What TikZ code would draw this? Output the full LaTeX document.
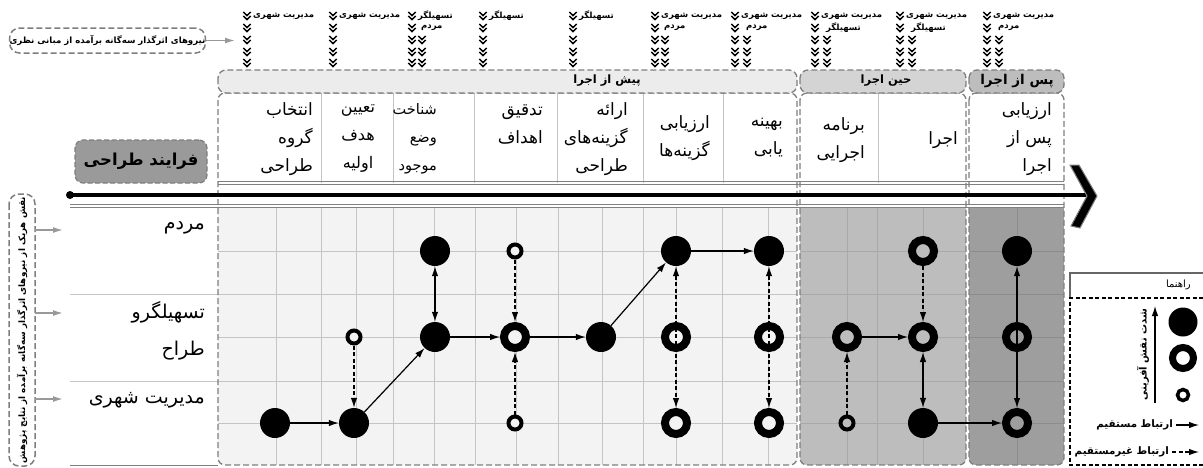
\documentclass[tikz,border=0pt]{standalone}
\usepackage{fontspec}
\usetikzlibrary{arrows.meta}
\newfontfamily\fafont[Script=Arabic]{DejaVu Sans}
\TeXXeTstate=1
\newcommand\fa[1]{{\fafont\beginR #1\endR}}
\definecolor{tabA}{HTML}{ECECEC}
\definecolor{tabB}{HTML}{D4D4D4}
\definecolor{tabC}{HTML}{BDBDBD}
\definecolor{gridA}{HTML}{F3F3F3}
\definecolor{gridB}{HTML}{BDBDBD}
\definecolor{gridC}{HTML}{9E9E9E}
\definecolor{glA}{HTML}{C4C4C4}
\definecolor{glB}{HTML}{A9A9A9}
\definecolor{glC}{HTML}{8C8C8C}
\definecolor{bordergray}{HTML}{7E7E7E}
\definecolor{arrowgray}{HTML}{999999}
\definecolor{procgray}{HTML}{9A9A9A}
\begin{document}
\begin{tikzpicture}[x=1pt,y=-1pt,
  big/.style={circle,fill=black,minimum size=30pt,inner sep=0pt},
  ring/.style={circle,draw=black,line width=8pt,minimum size=22pt,inner sep=0pt},
  sring/.style={circle,draw=black,line width=4pt,minimum size=13pt,inner sep=0pt},
  direct/.style={line width=1.2pt,-{Latex[length=10pt,width=6.5pt]}},
  indirect/.style={direct,dash pattern=on 4pt off 2.5pt},
  bidirect/.style={line width=1.2pt,{Latex[length=10pt,width=6.5pt]}-{Latex[length=10pt,width=6.5pt]}},
  bidashed/.style={bidirect,dash pattern=on 4pt off 2.5pt},
  border/.style={draw=bordergray,line width=1.3pt,dash pattern=on 6pt off 3pt},
  hdr/.style={font=\fontsize{17}{28}\selectfont,align=right,inner sep=0pt,anchor=east},
  rowlab/.style={font=\fontsize{19}{37}\selectfont,align=right,inner sep=0pt,anchor=east},
  toplab/.style={font=\fontsize{8.5}{10}\selectfont\bfseries,inner sep=0pt,anchor=west},
  tablab/.style={font=\fontsize{11.5}{13}\selectfont\bfseries,inner sep=0pt},
  legtxt/.style={font=\fontsize{10.3}{12}\selectfont\bfseries,inner sep=0pt,anchor=east},
  garrow/.style={draw=arrowgray,line width=1.5pt,-{Latex[length=10pt,width=6pt]}},
  chev/.pic={\draw[line width=1.5pt] (-3.7,-4) -- (0,-0.5) -- (3.7,-4);
             \draw[line width=1.5pt] (-3.7,0) -- (0,3.5) -- (3.7,0);}
]
\useasboundingbox (0,0) rectangle (1203,467);

% ---------- regions ----------
\begin{scope}
\clip[rounded corners=7pt] (218,93) rectangle (797,465);
\fill[white] (218,93) rectangle (797,207);
\fill[gridA] (218,207) rectangle (797,465);
\foreach \x in {276,321,356,393,434,475,516,558,602,643,676,722,768}
  \draw[glA,line width=0.9pt] (\x,207) -- (\x,465);
\foreach \y in {251,294,337,381,423}
  \draw[glA,line width=0.9pt] (218,\y) -- (797,\y);
\foreach \x in {321,393,474,557,643,723}
  \draw[glA,line width=1pt] (\x,93) -- (\x,183);
\end{scope}
\begin{scope}
\clip[rounded corners=7pt] (800,93) rectangle (966,465);
\fill[white] (800,93) rectangle (966,207);
\fill[gridB] (800,207) rectangle (966,465);
\foreach \x in {847,877,923}
  \draw[glB,line width=0.9pt] (\x,207) -- (\x,465);
\foreach \y in {251,294,337,381,423}
  \draw[glB,line width=0.9pt] (800,\y) -- (966,\y);
\draw[glA,line width=1pt] (878,93) -- (878,183);
\end{scope}
\begin{scope}
\clip[rounded corners=7pt] (969,93) rectangle (1064,465);
\fill[white] (969,93) rectangle (1064,207);
\fill[gridC] (969,207) rectangle (1064,465);
\draw[glC,line width=0.9pt] (1017,207) -- (1017,465);
\foreach \y in {251,294,337,381,423}
  \draw[glC,line width=0.9pt] (969,\y) -- (1064,\y);
\end{scope}

% double rules
\draw[gray,line width=1pt] (218,181.5) -- (1064,181.5);
\draw[gray,line width=1pt] (218,184.5) -- (1064,184.5);
\draw[gray,line width=1pt] (70,204) -- (1064,204);
\draw[gray,line width=1pt] (70,207) -- (1064,207);
\draw[glA,line width=1pt] (70,294) -- (218,294);
\draw[glA,line width=1pt] (70,381) -- (218,381);
\draw[gray,line width=1.6pt] (70,465.5) -- (218,465.5);

% region borders and tabs
\draw[border,rounded corners=7pt] (218,93) rectangle (797,465);
\draw[border,rounded corners=7pt] (800,93) rectangle (966,465);
\draw[border,rounded corners=7pt] (969,93) rectangle (1064,465);
\draw[border,fill=tabA,rounded corners=8pt] (218,70) rectangle (797,93);
\draw[border,fill=tabB,rounded corners=8pt] (800,70) rectangle (966,93);
\draw[border,fill=tabC,rounded corners=8pt] (969,70) rectangle (1064,93);
\node[tablab] (tA) at (607,81) {\fa{پیش از اجرا}};
\node[tablab] (tB) at (886,81) {\fa{حین اجرا}};
\node[tablab,font=\fontsize{13.5}{15}\selectfont\bfseries] (tC) at (1017,81) {\fa{پس از اجرا}};

% ---------- timeline ----------
\coordinate (tls) at (70,195);
\coordinate (tle) at (1086,195);
\draw[line width=3.5pt] (tls) -- (tle);
\fill (tls) circle (4pt);
\draw[fill=black,draw=gray,line width=1pt]
  (1070,165) -- (1079,165) -- (1097,196) -- (1080,228) -- (1071,226) -- (1087,196) -- cycle;

% ---------- header texts ----------
\node[hdr] (h1) at (313,139) {\fa{انتخاب}\\\fa{گروه}\\\fa{طراحی}};
\node[hdr,align=center,anchor=center,font=\fontsize{16}{28}\selectfont] (h2) at (358,139) {\fa{تعیین}\\\fa{هدف}\\\fa{اولیه}};
\node[hdr,font=\fontsize{14.5}{28}\selectfont] (h3) at (437,139) {\fa{شناخت}\\\fa{وضع}\\\fa{موجود}};
\node[hdr] (h4) at (543,124) {\fa{تدقیق}\\\fa{اهداف}};
\node[hdr] (h5) at (628,139) {\fa{ارائه}\\\fa{گزینه‌های}\\\fa{طراحی}};
\node[hdr] (h6) at (710,138) {\fa{ارزیابی}\\\fa{گزینه‌ها}};
\node[hdr] (h7) at (783,138) {\fa{بهینه}\\\fa{یابی}};
\node[hdr] (h8) at (865,140) {\fa{برنامه}\\\fa{اجرایی}};
\node[hdr] (h9) at (958,140) {\fa{اجرا}};
\node[hdr] (h10) at (1052,139) {\fa{ارزیابی}\\\fa{پس از}\\\fa{اجرا}};

% ---------- row labels ----------
\node[rowlab] (r1) at (205,228) {\fa{مردم}};
\node[rowlab] (r2) at (205,331) {\fa{تسهیلگرو}\\\fa{طراح}};
\node[rowlab] (r3) at (205,400) {\fa{مدیریت شهری}};

% ---------- process box ----------
\node[fill=procgray,draw=bordergray,line width=1.2pt,dash pattern=on 5pt off 2.5pt,
      rounded corners=8pt,minimum width=132pt,minimum height=43pt,inner sep=0pt,
      font=\fontsize{16.5}{18}\selectfont\bfseries] (proc) at (141,161.5) {\fa{فرایند طراحی}};

% ---------- top influence labels ----------
\foreach \x in {247,333,412,483,573,655,735,815,900,987}
  \foreach \y in {16,28,40,52,63}
    \pic at (\x,\y) {chev};
\foreach \x in {422,665,747,827,912,999}
  \foreach \y in {40,52,63}
    \pic at (\x,\y) {chev};
\node[toplab] (l1) at (253,16) {\fa{مدیریت شهری}};
\node[toplab] (l2) at (339,16) {\fa{مدیریت شهری}};
\node[toplab] (l3a) at (418,16) {\fa{تسهیلگر}};
\node[toplab] (l3b) at (421,28) {\fa{مردم}};
\node[toplab] (l4) at (489,16) {\fa{تسهیلگر}};
\node[toplab] (l5) at (579,16) {\fa{تسهیلگر}};
\node[toplab] (l6a) at (661,16) {\fa{مدیریت شهری}};
\node[toplab] (l6b) at (664,28) {\fa{مردم}};
\node[toplab] (l7a) at (741,16) {\fa{مدیریت شهری}};
\node[toplab] (l7b) at (746,28) {\fa{مردم}};
\node[toplab] (l8a) at (821,16) {\fa{مدیریت شهری}};
\node[toplab] (l8b) at (826,28) {\fa{تسهیلگر}};
\node[toplab] (l9a) at (906,16) {\fa{مدیریت شهری}};
\node[toplab] (l9b) at (911,28) {\fa{تسهیلگر}};
\node[toplab] (l10a) at (993,16) {\fa{مدیریت شهری}};
\node[toplab] (l10b) at (998,28) {\fa{مردم}};

% theory box
\node[draw=bordergray,line width=1.5pt,dash pattern=on 6pt off 3pt,rounded corners=10pt,
      minimum width=195pt,minimum height=25pt,inner sep=0pt,
      font=\fontsize{8.6}{11}\selectfont\bfseries] (theory) at (107.5,40.5)
      {\fa{نیروهای اثرگذار سه‌گانه برآمده از مبانی نظری}};
\coordinate (thend) at (235,40.5);
\draw[garrow] (theory.east) -- (thend);

% research box (vertical)
\node[draw=bordergray,line width=1.5pt,dash pattern=on 6pt off 3pt,rounded corners=10pt,
      minimum width=272pt,minimum height=26pt,inner sep=0pt,rotate=90,
      font=\fontsize{8.8}{10}\selectfont\bfseries] (research) at (22,330)
      {\fa{نقش هریک از نیروهای اثرگذار سه‌گانه برآمده از نتایج پژوهش}};
\foreach \y/\n in {230/a,313/b,399/c}{
  \coordinate (rs\n) at (35,\y);
  \coordinate (re\n) at (63,\y);
  \draw[garrow] (rs\n) -- (re\n);
}

% ---------- role nodes ----------
\node[big]   (n1m)  at (275,423) {};
\node[sring,fill=gridA] (n2f)  at (354,337) {};
\node[big]   (n2m)  at (354,423) {};
\node[big]   (n3p)  at (435,251) {};
\node[big]   (n3f)  at (435,337) {};
\node[sring,fill=gridA] (n4p)  at (515,251) {};
\node[ring,fill=gridA]  (n4f)  at (515,337) {};
\node[sring,fill=gridA] (n4m)  at (515,423) {};
\node[big]   (n5f)  at (601,337) {};
\node[big]   (n6p)  at (676,251) {};
\node[ring,fill=gridA]  (n6f)  at (676,337) {};
\node[ring,fill=gridA]  (n6m)  at (676,423) {};
\node[big]   (n7p)  at (769,251) {};
\node[ring,fill=gridA]  (n7f)  at (769,337) {};
\node[ring,fill=gridA]  (n7m)  at (769,423) {};
\node[ring,fill=gridB]  (n8f)  at (847,337) {};
\node[sring,fill=gridB] (n8m)  at (847,423) {};
\node[ring,fill=gridB]  (n9p)  at (923,251) {};
\node[ring,fill=gridB]  (n9f)  at (923,337) {};
\node[big]   (n9m)  at (923,423) {};
\node[big]   (n10p) at (1017,251) {};
\node[ring,fill=gridC]  (n10f) at (1017,337) {};
\node[ring,fill=gridC]  (n10m) at (1017,423) {};

% ---------- connectors ----------
\draw[direct]   (n1m) -- (n2m);
\draw[indirect] (n2f) -- (n2m);
\draw[direct]   (n2m) -- (n3f);
\draw[bidirect] (n3p) -- (n3f);
\draw[direct]   (n3f) -- (n4f);
\draw[indirect] (n4p) -- (n4f);
\draw[indirect] (n4m) -- (n4f);
\draw[direct]   (n4f) -- (n5f);
\draw[direct]   (n5f) -- (n6p);
\draw[bidashed] (n6p) -- (n6m);
\draw[direct]   (n6p) -- (n7p);
\draw[bidashed] (n7p) -- (n7m);
\draw[indirect] (n8m) -- (n8f);
\draw[direct]   (n8f) -- (n9f);
\draw[indirect] (n9p) -- (n9f);
\draw[bidirect] (n9f) -- (n9m);
\draw[direct]   (n9m) -- (n10m);
\draw[bidirect] (n10p) -- (n10m);

% ---------- legend ----------
\draw[gray!80!black,line width=1.3pt] (1070,298) -- (1070,273) -- (1203,273);
\draw[black,line width=1.1pt,dash pattern=on 4pt off 2.5pt] (1203,298) -- (1070,298) -- (1070,465) -- (1203,465);
\node[font=\fontsize{10}{12}\selectfont,inner sep=0pt,anchor=east] (lgt) at (1191,285) {\fa{راهنما}};
\node[big,minimum size=29pt] (lbig) at (1183,322) {};
\node[ring,line width=7pt,minimum size=21pt] (lring) at (1183,358) {};
\node[sring,line width=3.5pt,minimum size=11pt] (lsring) at (1183,395) {};
\coordinate (lvs) at (1155,403);
\coordinate (lve) at (1155,306);
\draw[direct] (lvs) -- (lve);
\node[rotate=90,font=\fontsize{10}{12}\selectfont\bfseries,inner sep=0pt] (lint) at (1143,355) {\fa{شدت نقش آفرینی}};
\coordinate (lds) at (1176,425);
\coordinate (lde) at (1199,425);
\draw[direct] (lds) -- (lde);
\node[legtxt] (ldt) at (1173,425) {\fa{ارتباط مستقیم}};
\coordinate (lis) at (1172,452);
\coordinate (lie) at (1199,452);
\draw[indirect] (lis) -- (lie);
\node[legtxt] (lit) at (1169,452) {\fa{ارتباط غیرمستقیم}};
\end{tikzpicture}
\end{document}
